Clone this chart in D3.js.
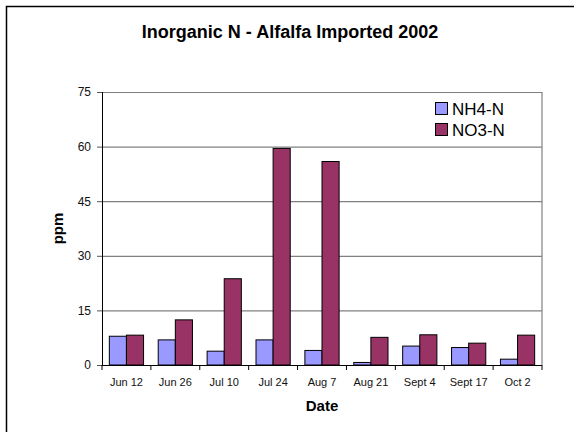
<!DOCTYPE html>
<html>
<head>
<meta charset="utf-8">
<script src="https://cdn.jsdelivr.net/npm/d3@7"></script>
<style>
	body { margin: 0; background: #fff; }
	svg { display: block; font-family: "Liberation Sans", Arial, sans-serif; }
</style>
</head>
<body>
<div id="chart"></div>
<script>
// data
var dates = ["Jun 12", "Jun 26", "Jul 10", "Jul 24", "Aug 7", "Aug 21", "Sept 4", "Sept 17", "Oct 2"];
var nh4 = [7.9, 6.9, 3.8, 6.9, 4.0, 0.7, 5.2, 4.8, 1.6];
var no3 = [8.2, 12.4, 23.7, 59.5, 55.9, 7.6, 8.3, 6.0, 8.2];
var yTicks = [0, 15, 30, 45, 60, 75];
var seriesNames = ["NH4-N", "NO3-N"];
var seriesColors = ["#9999ff", "#993366"];

var width = 574,
	height = 432;
var margin = {top: 92, right: 32, bottom: 67, left: 102};
var plotW = width - margin.left - margin.right,
	plotH = height - margin.top - margin.bottom;

var svg = d3.select("#chart")
	.append("svg")
	.attr("width", width)
	.attr("height", height);

// outer frame (only left and top edges are visible)
svg.append("rect")
	.attr("x", 6.5)
	.attr("y", 6.5)
	.attr("width", 700)
	.attr("height", 700)
	.attr("fill", "none")
	.attr("stroke", "#000")
	.attr("stroke-width", 1.5);

svg.append("text")
	.attr("x", 290)
	.attr("y", 38)
	.attr("text-anchor", "middle")
	.style("font-size", "18px")
	.style("font-weight", "bold")
	.text("Inorganic N - Alfalfa Imported 2002");

var g = svg.append("g")
	.attr("transform", "translate(" + margin.left + "," + margin.top + ")");

var x = d3.scaleBand()
	.domain(dates)
	.range([0, plotW]);

var y = d3.scaleLinear()
	.domain([0, 75])
	.range([plotH, 0]);

// gridlines
g.append("g")
	.call(d3.axisLeft(y).tickValues(yTicks).tickSize(-plotW).tickFormat(""))
	.call(function (s) {
		s.select(".domain").remove();
		s.selectAll("line").attr("stroke", "#808080").attr("stroke-width", 1.2);
	});

// right edge of plot area
g.append("line")
	.attr("x1", plotW)
	.attr("x2", plotW)
	.attr("y1", 0)
	.attr("y2", plotH)
	.attr("stroke", "#808080")
	.attr("stroke-width", 1.2);

// bars
var bw = x.bandwidth() * 0.35;
var series = [nh4, no3];
series.forEach(function (vals, si) {
	g.selectAll(".bar" + si)
		.data(vals)
		.enter()
		.append("rect")
		.attr("x", function (d, i) {
			return x(dates[i]) + (x.bandwidth() - 2 * bw) / 2 + si * bw;
		})
		.attr("y", function (d) { return y(d); })
		.attr("width", bw)
		.attr("height", function (d) { return plotH - y(d); })
		.attr("fill", seriesColors[si])
		.attr("stroke", "#000")
		.attr("stroke-width", 1);
});

// y axis
g.append("g")
	.call(d3.axisLeft(y).tickValues(yTicks).tickSize(5).tickPadding(6))
	.call(function (s) {
		s.select(".domain").attr("stroke", "#000").attr("d", "M0.5," + plotH + "V0");
		s.selectAll("line").attr("stroke", "#555");
		s.selectAll("text").style("font-size", "12px").attr("fill", "#111");
	});

// x axis
var xAxis = g.append("g")
	.attr("transform", "translate(0," + plotH + ")")
	.call(d3.axisBottom(x).tickSize(0).tickPadding(13))
	.call(function (s) {
		s.select(".domain").attr("stroke", "#000").attr("d", "M0,0.5H" + plotW);
		s.selectAll("text").style("font-size", "11px").attr("fill", "#111");
	});

// category boundary ticks
xAxis.selectAll(".sep")
	.data(d3.range(dates.length + 1))
	.enter()
	.append("line")
	.attr("x1", function (i) { return i * x.step(); })
	.attr("x2", function (i) { return i * x.step(); })
	.attr("y1", 0)
	.attr("y2", 5)
	.attr("stroke", "#000");

// axis titles
svg.append("text")
	.attr("x", margin.left + plotW / 2)
	.attr("y", 411)
	.attr("text-anchor", "middle")
	.style("font-size", "15px")
	.style("font-weight", "bold")
	.text("Date");

svg.append("text")
	.attr("transform", "translate(63," + (margin.top + plotH / 2) + ") rotate(-90)")
	.attr("text-anchor", "middle")
	.style("font-size", "15px")
	.style("font-weight", "bold")
	.text("ppm");

// legend
var legend = svg.append("g")
	.attr("transform", "translate(435,102)");

legend.selectAll("rect")
	.data(seriesNames)
	.enter()
	.append("rect")
	.attr("x", 0.5)
	.attr("y", function (d, i) { return i * 21 + 0.5; })
	.attr("width", 12)
	.attr("height", 12)
	.attr("fill", function (d, i) { return seriesColors[i]; })
	.attr("stroke", "#000");

legend.selectAll("text")
	.data(seriesNames)
	.enter()
	.append("text")
	.attr("x", 17)
	.attr("y", function (d, i) { return i * 21 + 12.5; })
	.style("font-size", "17px")
	.text(function (d) { return d; });
</script>
</body>
</html>
